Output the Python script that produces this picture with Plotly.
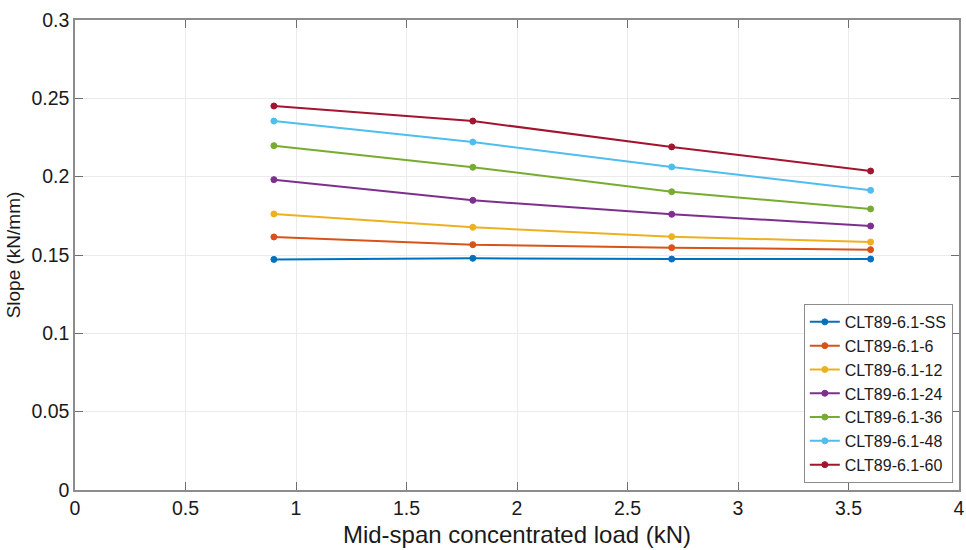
import plotly.graph_objects as go

loads = [0.9, 1.8, 2.7, 3.6]
series_names = ["CLT89-6.1-SS", "CLT89-6.1-6", "CLT89-6.1-12", "CLT89-6.1-24",
                "CLT89-6.1-36", "CLT89-6.1-48", "CLT89-6.1-60"]
slope_SS = [0.1472, 0.1479, 0.1474, 0.1474]
slope_6 = [0.1615, 0.1566, 0.1547, 0.1534]
slope_12 = [0.1762, 0.1677, 0.1617, 0.1583]
slope_24 = [0.1981, 0.1849, 0.1760, 0.1685]
slope_36 = [0.2198, 0.2060, 0.1904, 0.1794]
slope_48 = [0.2355, 0.2221, 0.2062, 0.1913]
slope_60 = [0.2451, 0.2355, 0.2190, 0.2036]
series_values = [slope_SS, slope_6, slope_12, slope_24, slope_36, slope_48, slope_60]
colors = ["#0072BD", "#D95319", "#EDB120", "#7E2F8E", "#77AC30", "#4DBEEE", "#A2142F"]

x_ticks = [0, 0.5, 1, 1.5, 2, 2.5, 3, 3.5, 4]
x_tick_labels = ["0", "0.5", "1", "1.5", "2", "2.5", "3", "3.5", "4"]
y_ticks = [0, 0.05, 0.1, 0.15, 0.2, 0.25, 0.3]
y_tick_labels = ["0", "0.05", "0.1", "0.15", "0.2", "0.25", "0.3"]

FONT = "Liberation Sans, Arial, sans-serif"

fig = go.Figure()
for name, vals, col in zip(series_names, series_values, colors):
    fig.add_trace(go.Scatter(
        x=loads, y=vals, name=name, mode="lines+markers",
        line=dict(color=col, width=2),
        marker=dict(symbol="circle", size=6, color=col,
                    line=dict(color=col, width=1)),
    ))

axis_common = dict(
    showline=True, mirror="ticks", linecolor="#8c8c8c", linewidth=1.5,
    showgrid=True, gridcolor="#ebebeb", gridwidth=1,
    ticks="inside", ticklen=8, tickcolor="#6e6e6e", tickwidth=1,
    zeroline=False, ticklabeloverflow="allow", automargin=False,
    tickfont=dict(family=FONT, size=19.5, color="#1a1a1a"),
)

fig.update_layout(
    width=966, height=550,
    margin=dict(l=75, r=7, t=20, b=60),
    paper_bgcolor="white", plot_bgcolor="white",
    font=dict(family=FONT, color="#1a1a1a"),
    xaxis=dict(range=[0, 4], tickvals=x_ticks, ticktext=x_tick_labels,
               title=dict(text="Mid-span concentrated load (kN)",
                          font=dict(family=FONT, size=24, color="#1a1a1a"), standoff=8),
               **axis_common),
    yaxis=dict(range=[0, 0.3], tickvals=y_ticks, ticktext=y_tick_labels,
               title=dict(text="Slope (kN/mm)",
                          font=dict(family=FONT, size=19, color="#1a1a1a"), standoff=6),
               **axis_common),
    legend=dict(x=0.993, y=0.015, xanchor="right", yanchor="bottom",
                bgcolor="white", bordercolor="#8c8c8c", borderwidth=1,
                font=dict(family=FONT, size=16, color="#1a1a1a"),
                tracegroupgap=0, itemwidth=30),
    showlegend=True,
)

fig.write_html("out.html")
